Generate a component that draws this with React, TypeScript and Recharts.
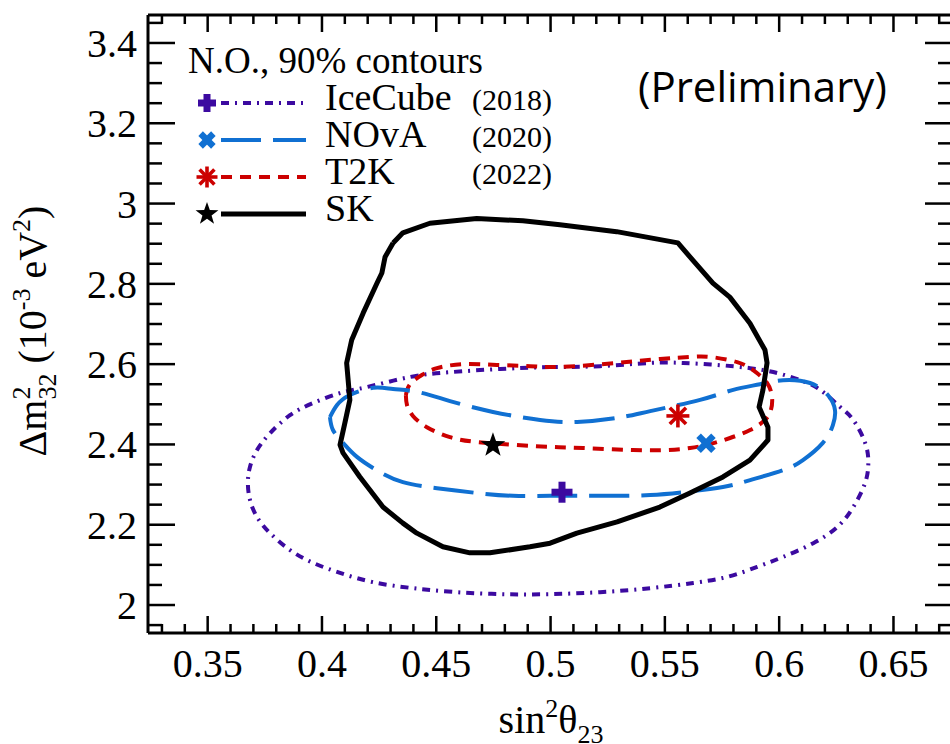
import React from "react";
import { ComposedChart, Line, Scatter, XAxis, YAxis, Legend } from "recharts";

// plot box in page pixels (right spine sits just past the 950px edge)
const W = 953;
const H = 744;
const PLOT = { left: 148, top: 15, right: 952, bottom: 633 };
const SERIF = "'Liberation Serif', 'DejaVu Serif', serif";

const xDomain = [0.3239, 0.6756];
const yDomain = [1.9303, 3.4697];
const xMajor = [0.35, 0.4, 0.45, 0.5, 0.55, 0.6, 0.65];
const yMajor = [2, 2.2, 2.4, 2.6, 2.8, 3, 3.2, 3.4];
const xTicks = Array.from({ length: 35 }, (_, i) => +(0.33 + i * 0.01).toFixed(2));
const yTicks = Array.from({ length: 31 }, (_, i) => +(1.95 + i * 0.05).toFixed(2));

const PURPLE = "#3c0aa0";
const BLUE = "#1070d2";
const RED = "#cc0000";

// 90% contours: [sin^2 theta23, dm2_32]
const iceCubeContour: [number, number][] = [
  [0.4997, 2.593], [0.5216, 2.595], [0.5436, 2.603], [0.558, 2.603], [0.5729, 2.598],
  [0.5873, 2.59], [0.5991, 2.578], [0.6092, 2.56], [0.6179, 2.536], [0.6267, 2.493],
  [0.6324, 2.461], [0.6376, 2.404], [0.639, 2.354], [0.6376, 2.304], [0.6324, 2.244],
  [0.6254, 2.194], [0.6149, 2.154], [0.6018, 2.12], [0.5904, 2.095], [0.5773, 2.07],
  [0.5624, 2.055], [0.5436, 2.042], [0.5216, 2.032], [0.4997, 2.027], [0.4792, 2.027],
  [0.459, 2.032], [0.4398, 2.042], [0.4223, 2.057], [0.4079, 2.08], [0.3961, 2.105],
  [0.386, 2.137], [0.3773, 2.179], [0.3716, 2.219], [0.3685, 2.262], [0.3676, 2.304],
  [0.3685, 2.344], [0.3716, 2.386], [0.3773, 2.428], [0.386, 2.473], [0.3961, 2.503],
  [0.4079, 2.528], [0.4197, 2.543], [0.4385, 2.568], [0.456, 2.58], [0.4779, 2.588],
  [0.4997, 2.593],
];

const novaContour: [number, number][] = [
  [0.4035, 2.468], [0.4066, 2.498], [0.4122, 2.523], [0.4223, 2.541], [0.4311, 2.538],
  [0.4416, 2.531], [0.456, 2.508], [0.4748, 2.481], [0.4954, 2.461], [0.5116, 2.456],
  [0.5291, 2.466], [0.5436, 2.483], [0.5654, 2.511], [0.5799, 2.536], [0.5916, 2.55],
  [0.6017, 2.56], [0.6135, 2.553], [0.6213, 2.523], [0.6244, 2.486], [0.6235, 2.448],
  [0.6191, 2.404], [0.6104, 2.361], [0.6017, 2.336], [0.5873, 2.311], [0.5754, 2.294],
  [0.5579, 2.281], [0.5436, 2.274], [0.5291, 2.272], [0.5142, 2.272], [0.4997, 2.272],
  [0.4836, 2.272], [0.4678, 2.279], [0.4503, 2.291], [0.4354, 2.306], [0.4245, 2.334],
  [0.4153, 2.369], [0.4092, 2.404], [0.4048, 2.436], [0.4035, 2.468],
];

const t2kContour: [number, number][] = [
  [0.4367, 2.523], [0.4385, 2.55], [0.4437, 2.573], [0.4503, 2.59], [0.4617, 2.6],
  [0.4765, 2.598], [0.491, 2.595], [0.5041, 2.593], [0.529, 2.603], [0.5479, 2.613],
  [0.561, 2.618], [0.5698, 2.618], [0.5816, 2.605], [0.5886, 2.585], [0.5947, 2.553],
  [0.5969, 2.516], [0.5964, 2.486], [0.5938, 2.461], [0.5873, 2.436], [0.5785, 2.416],
  [0.5698, 2.401], [0.561, 2.391], [0.5509, 2.386], [0.536, 2.386], [0.5142, 2.391],
  [0.4997, 2.394], [0.4836, 2.399], [0.4678, 2.406], [0.456, 2.418], [0.4459, 2.443],
  [0.4398, 2.471], [0.4372, 2.498], [0.4367, 2.523],
];

const skContour: [number, number][] = [
  [0.4311, 2.902], [0.4354, 2.927], [0.4472, 2.951], [0.4677, 2.963], [0.4879, 2.957],
  [0.5041, 2.947], [0.5289, 2.93], [0.5557, 2.902], [0.5622, 2.859], [0.571, 2.802],
  [0.5784, 2.767], [0.5872, 2.702], [0.5938, 2.635], [0.5947, 2.603], [0.5929, 2.536],
  [0.5912, 2.493], [0.5951, 2.443], [0.5951, 2.411], [0.5872, 2.361], [0.5754, 2.319],
  [0.561, 2.279], [0.5478, 2.244], [0.5291, 2.207], [0.5115, 2.179], [0.4998, 2.154],
  [0.491, 2.145], [0.4735, 2.13], [0.4647, 2.13], [0.4529, 2.145], [0.4415, 2.179],
  [0.4354, 2.204], [0.4267, 2.244], [0.4166, 2.319], [0.4092, 2.379], [0.4079, 2.399],
  [0.41, 2.453], [0.4122, 2.511], [0.4108, 2.603], [0.413, 2.66], [0.418, 2.727],
  [0.4241, 2.802], [0.4262, 2.827], [0.4276, 2.867], [0.4311, 2.902],
];

// best fit points
const iceCubeBest = [{ x: 0.505, y: 2.281 }];
const novaBest = [{ x: 0.568, y: 2.403 }];
const t2kBest = [{ x: 0.5557, y: 2.471 }];
const skBest = [{ x: 0.4748, y: 2.398 }];

const legendNames = ["IceCube", "NOvA", "T2K", "SK"];
const legendYears = ["(2018)", "(2020)", "(2022)", ""];

const toPts = (c: [number, number][]) => c.map(([x, y]) => ({ x, y }));
const isMajor = (v: number, list: number[]) => list.some((m) => Math.abs(m - v) < 1e-6);
const fmt = (v: number) => String(Number(v.toFixed(2)));

const TICK_W = 2.5;

const BottomTick = (p: any) => {
  const v = p.payload.value;
  const major = isMajor(v, xMajor);
  return (
    <g>
      <line x1={p.x} x2={p.x} y1={PLOT.bottom} y2={PLOT.bottom - (major ? 17 : 9)} stroke="#000" strokeWidth={TICK_W} />
      {major && (
        <text x={p.x} y={677} textAnchor="middle" fontFamily={SERIF} fontSize={40} fill="#000">
          {fmt(v)}
        </text>
      )}
    </g>
  );
};

const TopTick = (p: any) => {
  const major = isMajor(p.payload.value, xMajor);
  return <line x1={p.x} x2={p.x} y1={PLOT.top} y2={PLOT.top + (major ? 17 : 9)} stroke="#000" strokeWidth={TICK_W} />;
};

const LeftTick = (p: any) => {
  const v = p.payload.value;
  const major = isMajor(v, yMajor);
  return (
    <g>
      <line x1={PLOT.left} x2={PLOT.left + (major ? 27 : 14)} y1={p.y} y2={p.y} stroke="#000" strokeWidth={TICK_W} />
      {major && (
        <text x={137} y={p.y + 14} textAnchor="end" fontFamily={SERIF} fontSize={40} fill="#000">
          {fmt(v)}
        </text>
      )}
    </g>
  );
};

const RightTick = (p: any) => {
  const major = isMajor(p.payload.value, yMajor);
  return <line x1={PLOT.right} x2={PLOT.right - (major ? 27 : 14)} y1={p.y} y2={p.y} stroke="#000" strokeWidth={TICK_W} />;
};

// markers
const PlusMark = ({ cx, cy, s = 21, color = PURPLE }: any) => (
  <g fill={color}>
    <rect x={cx - s / 2} y={cy - 3.5} width={s} height={7} />
    <rect x={cx - 3.5} y={cy - s / 2} width={7} height={s} />
  </g>
);

const CrossMark = ({ cx, cy, s = 21, color = BLUE }: any) => (
  <g fill={color} transform={`rotate(45 ${cx} ${cy})`}>
    <rect x={cx - s / 2} y={cy - 3.2} width={s} height={6.4} />
    <rect x={cx - 3.2} y={cy - s / 2} width={6.4} height={s} />
  </g>
);

const AsteriskMark = ({ cx, cy, r = 11.5, color = RED }: any) => (
  <g stroke={color} strokeWidth={3.6}>
    {[0, 45, 90, 135].map((a) => {
      const t = (a * Math.PI) / 180;
      return <line key={a} x1={cx - r * Math.cos(t)} y1={cy - r * Math.sin(t)} x2={cx + r * Math.cos(t)} y2={cy + r * Math.sin(t)} />;
    })}
  </g>
);

const StarMark = ({ cx, cy, r = 13, color = "#000" }: any) => {
  const pts: string[] = [];
  for (let i = 0; i < 10; i++) {
    const rad = i % 2 === 0 ? r : r * 0.4;
    const t = -Math.PI / 2 + (i * Math.PI) / 5;
    pts.push(`${cx + rad * Math.cos(t)},${cy + rad * Math.sin(t)}`);
  }
  return <polygon points={pts.join(" ")} fill={color} />;
};

const lineStyles = [
  { color: PURPLE, dash: "8 6 2 6", width: 4, Mark: PlusMark },
  { color: BLUE, dash: "40 12", width: 4, Mark: CrossMark },
  { color: RED, dash: "11 8", width: 4, Mark: AsteriskMark },
  { color: "#000", dash: undefined, width: 5, Mark: StarMark },
];

const LegendOverlay = () => (
  <svg width={950} height={260} style={{ position: "absolute", left: 0, top: 0 }}>
    <text x={188} y={73} fontFamily={SERIF} fontSize={37} fill="#000">
      N.O., 90% contours
    </text>
    {legendNames.map((name, i) => {
      const y = 103 + i * 37;
      const st = lineStyles[i];
      const Mark = st.Mark;
      return (
        <g key={name}>
          <line x1={221} x2={306} y1={y} y2={y} stroke={st.color} strokeWidth={st.width} strokeDasharray={st.dash} />
          <Mark cx={207} cy={y} s={18} r={i === 3 ? 12 : 10.5} />
          <text x={325} y={y + 7} fontFamily={SERIF} fontSize={38} fill="#000">
            {name}
          </text>
          {legendYears[i] && (
            <text x={552} y={y + 7} textAnchor="end" fontFamily={SERIF} fontSize={30} fill="#000">
              {legendYears[i]}
            </text>
          )}
        </g>
      );
    })}
    <text x={638} y={102} fontFamily="'Open Sans', sans-serif" fontSize={42} fill="#000">
      (Preliminary)
    </text>
  </svg>
);

const XTitle = () => (
  <text x={551} y={733} textAnchor="middle" fontFamily={SERIF} fontSize={40} fill="#000">
    sin
    <tspan dy={-16} fontSize={26}>2</tspan>
    <tspan dy={16}>θ</tspan>
    <tspan dy={10} fontSize={26}>23</tspan>
  </text>
);

const YTitle = () => (
  <text transform="translate(46,331) rotate(-90)" textAnchor="middle" fontFamily={SERIF} fontSize={40} fill="#000">
    Δm
    <tspan dy={-16} fontSize={26}>2</tspan>
    <tspan dx={-13} dy={26} fontSize={26}>32</tspan>
    <tspan dy={-10}> (10</tspan>
    <tspan dy={-16} fontSize={26}>-3</tspan>
    <tspan dy={16}> eV</tspan>
    <tspan dy={-16} fontSize={26}>2</tspan>
    <tspan dy={16}>)</tspan>
  </text>
);

const contours = [iceCubeContour, t2kContour, novaContour, skContour];
const contourStyle = [lineStyles[0], lineStyles[2], lineStyles[1], lineStyles[3]];

// axes are 1px thick so recharts still draws them; margins absorb that pixel
const AX = 1;

export default function App() {
  return (
    <div style={{ position: "fixed", left: 0, top: 0, width: 950, height: 744, overflow: "hidden", background: "#fff" }}>
      <ComposedChart
        width={W}
        height={H}
        margin={{
          top: PLOT.top - AX,
          right: W - PLOT.right - AX,
          bottom: H - PLOT.bottom - AX,
          left: PLOT.left - AX,
        }}
      >
        <XAxis
          xAxisId={0}
          type="number"
          dataKey="x"
          domain={xDomain}
          allowDataOverflow
          ticks={xTicks}
          interval={0}
          height={AX}
          tickLine={false}
          tick={<BottomTick />}
          axisLine={{ stroke: "#000", strokeWidth: 3 }}
          label={<XTitle />}
        />
        <XAxis
          xAxisId="top"
          orientation="top"
          type="number"
          dataKey="x"
          domain={xDomain}
          allowDataOverflow
          ticks={xTicks}
          interval={0}
          height={AX}
          tickLine={false}
          tick={<TopTick />}
          axisLine={{ stroke: "#000", strokeWidth: 3 }}
        />
        <YAxis
          yAxisId={0}
          type="number"
          dataKey="y"
          domain={yDomain}
          allowDataOverflow
          ticks={yTicks}
          interval={0}
          width={AX}
          tickLine={false}
          tick={<LeftTick />}
          axisLine={{ stroke: "#000", strokeWidth: 3 }}
          label={<YTitle />}
        />
        <YAxis
          yAxisId="right"
          orientation="right"
          type="number"
          dataKey="y"
          domain={yDomain}
          allowDataOverflow
          ticks={yTicks}
          interval={0}
          width={AX}
          tickLine={false}
          tick={<RightTick />}
          axisLine={{ stroke: "#000", strokeWidth: 3 }}
        />
        {contours.map((c, i) => (
          <Line
            key={i}
            data={toPts(c)}
            dataKey="y"
            type={i === 3 ? "linear" : "natural"}
            stroke={contourStyle[i].color}
            strokeWidth={contourStyle[i].width}
            strokeDasharray={contourStyle[i].dash}
            strokeLinejoin="round"
            dot={false}
            activeDot={false}
            isAnimationActive={false}
          />
        ))}
        <Scatter data={iceCubeBest} dataKey="y" isAnimationActive={false} shape={(p: any) => <PlusMark cx={p.cx} cy={p.cy} />} />
        <Scatter data={novaBest} dataKey="y" isAnimationActive={false} shape={(p: any) => <CrossMark cx={p.cx} cy={p.cy} />} />
        <Scatter data={t2kBest} dataKey="y" isAnimationActive={false} shape={(p: any) => <AsteriskMark cx={p.cx} cy={p.cy} />} />
        <Scatter data={skBest} dataKey="y" isAnimationActive={false} shape={(p: any) => <StarMark cx={p.cx} cy={p.cy} />} />
        <Legend
          layout="horizontal"
          verticalAlign="middle"
          align="center"
          wrapperStyle={{ position: "absolute", left: 0, top: 0, width: 950, height: 260 }}
          content={() => <LegendOverlay />}
        />
      </ComposedChart>
    </div>
  );
}
